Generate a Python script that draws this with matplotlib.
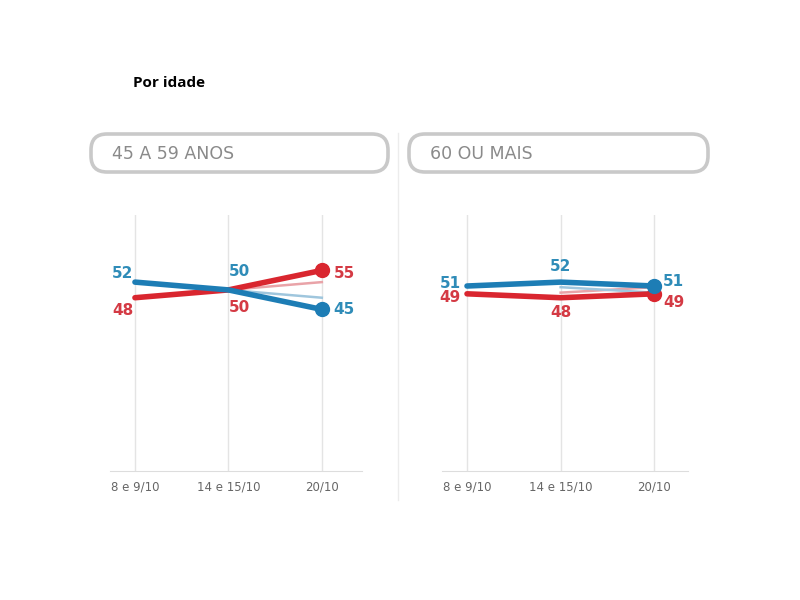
import numpy as np
import matplotlib.pyplot as plt
from matplotlib.patches import FancyBboxPatch

# dados
datas = ["8 e 9/10", "14 e 15/10", "20/10"]
faixas = ["45 A 59 ANOS", "60 OU MAIS"]
azul_45 = [52, 50, 45]
verm_45 = [48, 50, 55]
azul_60 = [51, 52, 51]
verm_60 = [49, 48, 49]
# linhas claras (trecho final)
azul_45_claro = [50, 48]
verm_45_claro = [50, 52]
azul_60_claro = [50.7, 49.3]
verm_60_claro = [49.3, 50.7]

AZUL = "#1d7db5"
VERM = "#d9262f"
AZUL_TXT = "#2f8cb8"
VERM_TXT = "#d43a44"

fig = plt.figure(figsize=(8, 6), dpi=100)

# camada de fundo em pixels
bg = fig.add_axes([0, 0, 1, 1], zorder=0)
bg.set_xlim(0, 800)
bg.set_ylim(600, 0)
bg.axis("off")

bg.text(133, 83, "Por idade", fontsize=11, fontweight="bold", color="black",
        va="center", ha="left", family="Open Sans")

caixas = [(91, 134, 297, 38), (409, 134, 299, 38)]
for (x0, y0, w, h), nome in zip(caixas, faixas):
    bg.add_patch(FancyBboxPatch((x0, y0), w, h,
                                boxstyle="round,pad=0,rounding_size=16",
                                fc="white", ec="#c9c9c9", lw=2.6))
    bg.text(x0 + 21, y0 + h / 2 + 1, nome, fontsize=12.5, color="#8a8a8a",
            va="center", ha="left")

bg.plot([398, 398], [133, 500], color="#ececec", lw=1)

paineis = [
    ([0.1375, 0.215, 0.315, 0.4267], 2.43, azul_45, verm_45, azul_45_claro, verm_45_claro),
    ([0.5525, 0.215, 0.3075, 0.4267], 2.36, azul_60, verm_60, azul_60_claro, verm_60_claro),
]

x = np.arange(len(datas))

axes = []
for pos, xmax, azul, verm, az_c, vm_c in paineis:
    ax = fig.add_axes(pos, zorder=1)
    ax.patch.set_alpha(0)
    ax.set_xlim(-0.267, xmax)
    ax.set_ylim(3.6, 69.2)
    for s in ["top", "right", "left"]:
        ax.spines[s].set_visible(False)
    ax.spines["bottom"].set_color("#dddddd")
    ax.set_yticks([])
    ax.set_xticks(x)
    ax.set_xticklabels(datas, fontsize=8.5, color="#666666")
    ax.tick_params(axis="x", length=0, pad=7)
    ax.grid(axis="x", color="#e4e4e4", lw=1)

    ax.plot(x[1:], vm_c, color="#e9a3a8", lw=1.8, zorder=2)
    ax.plot(x[1:], az_c, color="#9fc6dd", lw=1.8, zorder=2)
    ax.plot(x, verm, color=VERM, lw=4, solid_capstyle="round", zorder=3)
    ax.plot(x[-1], verm[-1], "o", color=VERM, ms=10, zorder=3)
    ax.plot(x, azul, color=AZUL, lw=4, solid_capstyle="round", zorder=4)
    ax.plot(x[-1], azul[-1], "o", color=AZUL, ms=10, zorder=4)
    axes.append(ax)

kw = dict(fontsize=11, fontweight="bold")

# rótulos painel 1
ax = axes[0]
ax.annotate(str(azul_45[0]), (0, azul_45[0]), xytext=(-9, 6), textcoords="offset points",
            ha="center", va="center", color=AZUL_TXT, **kw)
ax.annotate(str(verm_45[0]), (0, verm_45[0]), xytext=(-9, -9), textcoords="offset points",
            ha="center", va="center", color=VERM_TXT, **kw)
ax.annotate(str(azul_45[1]), (1, azul_45[1]), xytext=(8, 13), textcoords="offset points",
            ha="center", va="center", color=AZUL_TXT, **kw)
ax.annotate(str(verm_45[1]), (1, verm_45[1]), xytext=(8, -13), textcoords="offset points",
            ha="center", va="center", color=VERM_TXT, **kw)
ax.annotate(str(verm_45[2]), (2, verm_45[2]), xytext=(16, -2), textcoords="offset points",
            ha="center", va="center", color=VERM_TXT, **kw)
ax.annotate(str(azul_45[2]), (2, azul_45[2]), xytext=(16, 0), textcoords="offset points",
            ha="center", va="center", color=AZUL_TXT, **kw)

# rótulos painel 2
ax = axes[1]
ax.annotate(str(azul_60[0]), (0, azul_60[0]), xytext=(-12, 2), textcoords="offset points",
            ha="center", va="center", color=AZUL_TXT, **kw)
ax.annotate(str(verm_60[0]), (0, verm_60[0]), xytext=(-12, -3), textcoords="offset points",
            ha="center", va="center", color=VERM_TXT, **kw)
ax.annotate(str(azul_60[1]), (1, azul_60[1]), xytext=(0, 11), textcoords="offset points",
            ha="center", va="center", color=AZUL_TXT, **kw)
ax.annotate(str(verm_60[1]), (1, verm_60[1]), xytext=(0, -11), textcoords="offset points",
            ha="center", va="center", color=VERM_TXT, **kw)
ax.annotate(str(azul_60[2]), (2, azul_60[2]), xytext=(14, 3), textcoords="offset points",
            ha="center", va="center", color=AZUL_TXT, **kw)
ax.annotate(str(verm_60[2]), (2, verm_60[2]), xytext=(14, -6), textcoords="offset points",
            ha="center", va="center", color=VERM_TXT, **kw)

plt.savefig("out.png", dpi=100)
